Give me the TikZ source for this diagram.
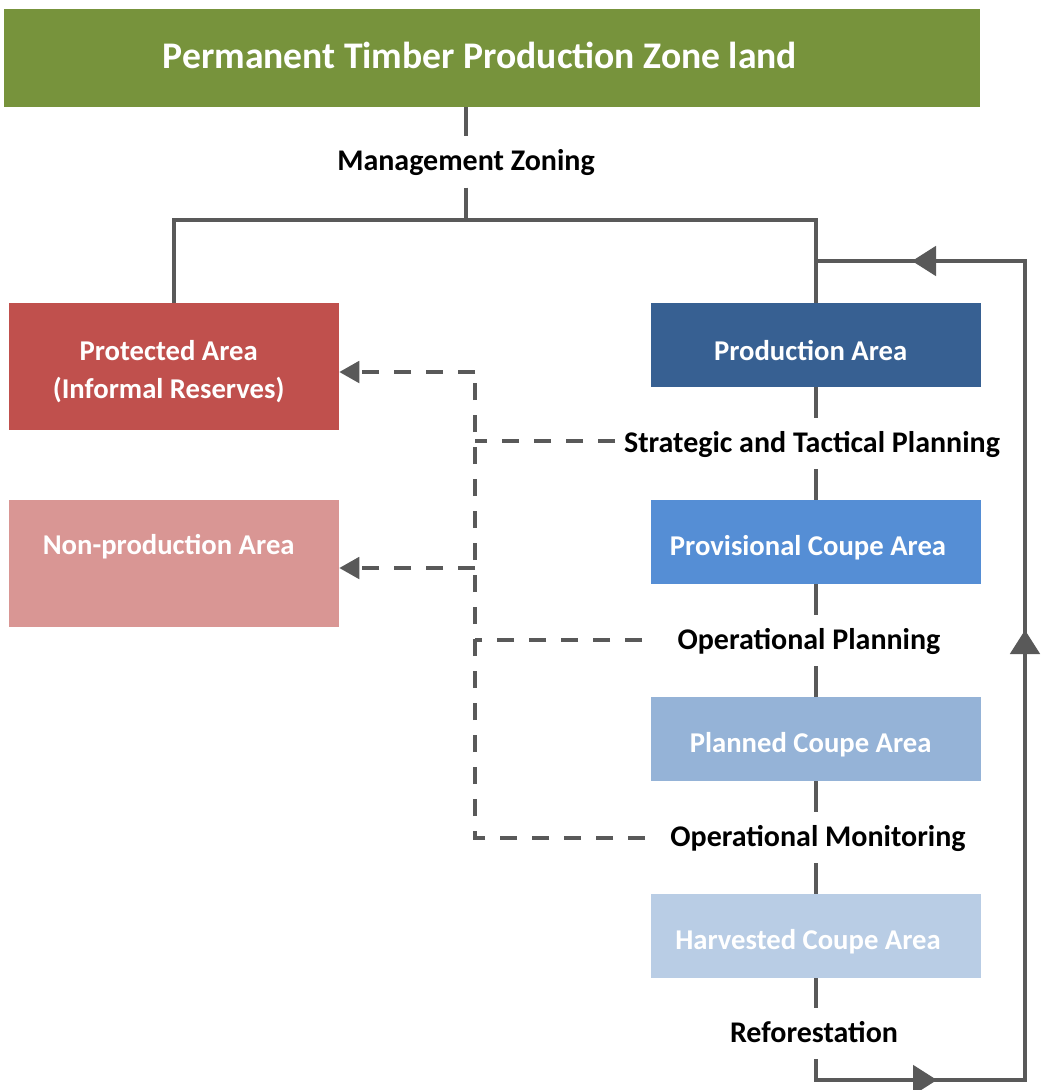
\documentclass[tikz,border=0pt]{standalone}
\usepackage{fontspec}
\setmainfont{Carlito}
\usetikzlibrary{arrows.meta}
\definecolor{cgreen}{HTML}{77933C}
\definecolor{cprot}{HTML}{C0504D}
\definecolor{cnonp}{HTML}{D99694}
\definecolor{cprod}{HTML}{376092}
\definecolor{cprov}{HTML}{558ED5}
\definecolor{cplan}{HTML}{95B3D7}
\definecolor{charv}{HTML}{B9CDE5}
\definecolor{cline}{HTML}{595959}
\tikzset{
  box/.style={rectangle, draw=none, inner sep=0pt, minimum width=247.5pt},
  btxt/.style={text=white, font=\bfseries\fontsize{21.5}{28.5}\selectfont, align=center, inner sep=0pt, xshift=-4pt, yshift=-4pt},
  lbl/.style={rectangle, draw=none, text=black, font=\bfseries\fontsize{22.5}{26}\selectfont, text height=17pt, text depth=4pt, inner ysep=8.6pt, inner xsep=2pt},
  conn/.style={draw=cline, line width=3pt},
  dconn/.style={draw=cline, line width=3pt, dash pattern=on 12.75pt off 11.25pt},
  ltip/.style={-{Triangle[length=18pt,width=22pt]}},
  dtip/.style={-{Triangle[length=15pt,width=16pt]}}
}
\begin{document}
\begin{tikzpicture}[x=0.75pt,y=-0.75pt]
\useasboundingbox (0,0) rectangle (1046,1090);
% boxes
\node[rectangle, fill=cgreen, minimum width=732pt, minimum height=73.5pt, inner sep=0pt,
  label={[text=white, font=\bfseries\fontsize{28.2}{32}\selectfont, inner sep=0pt, xshift=-9pt, yshift=2pt]center:Permanent Timber Production Zone land}] (title) at (492,58) {};
\node[box, fill=cprot, minimum height=95.25pt, label={[btxt]center:Protected Area\\(Informal Reserves)}] (prot) at (174,366.5) {};
\node[box, fill=cnonp, minimum height=95.25pt, label={[btxt, yshift=4pt]center:Non-production Area\\\mbox{}}] (nonp) at (174,563) {};
\node[box, fill=cprod, minimum height=63pt, label={[btxt]center:Production Area}] (prod) at (816,345) {};
\node[box, fill=cprov, minimum height=63pt, label={[btxt, xshift=-2pt]center:Provisional Coupe Area}] (prov) at (816,542) {};
\node[box, fill=cplan, minimum height=63pt, label={[btxt]center:Planned Coupe Area}] (plan) at (816,739) {};
\node[box, fill=charv, minimum height=63pt, label={[btxt, xshift=-2pt]center:Harvested Coupe Area}] (harv) at (816,936) {};
% labels
\node[lbl] (mz) at (466,162) {Management Zoning};
\node[lbl] (stp) at (812,443.5) {Strategic and Tactical Planning};
\node[lbl] (opp) at (809,640.5) {Operational Planning};
\node[lbl] (opm) at (818,837.5) {Operational Monitoring};
\node[lbl] (ref) at (814,1033.5) {Reforestation};
% coordinates
\coordinate (hz) at (466,220);
\coordinate (lpA) at (816,1080);
\coordinate (lpB) at (937,1080);
\coordinate (lpC) at (1025,1080);
\coordinate (lpD) at (1025,630);
\coordinate (lpE) at (1025,261);
\coordinate (lpF) at (912,261);
\coordinate (lpG) at (816,261);
\coordinate (dA) at (475,372);
\coordinate (dB) at (475,441);
\coordinate (dC) at (475,568);
\coordinate (dD) at (475,640);
\coordinate (dE) at (475,838);
\coordinate (eB) at (615,441);
\coordinate (eD) at (642,640);
\coordinate (eE) at (645,838);
% solid connectors
\draw[conn] (title.south -| mz) -- (mz.north);
\draw[conn] (mz.south) -- (hz);
\draw[conn] (prot.north) -- (prot.north |- hz) -- (prod.north |- hz) -- (prod.north);
\draw[conn] (prod.south) -- (stp.north -| prod.south);
\draw[conn] (stp.south -| prov.north) -- (prov.north);
\draw[conn] (prov.south) -- (opp.north -| prov.south);
\draw[conn] (opp.south -| plan.north) -- (plan.north);
\draw[conn] (plan.south) -- (opm.north -| plan.south);
\draw[conn] (opm.south -| harv.north) -- (harv.north);
\draw[conn] (harv.south) -- (ref.north -| harv.south);
% feedback loop
\draw[conn] (ref.south -| lpA) -- (lpA) -- (lpB);
\draw[conn, ltip] (lpA) -- (lpB);
\draw[conn] (lpB) -- (lpC) -- (lpD);
\draw[conn, ltip] (lpC) -- (lpD);
\draw[conn] (lpD) -- (lpE) -- (lpF);
\draw[conn, ltip] (lpE) -- (lpF);
\draw[conn] (lpF) -- (lpG);
% dashed connectors
\draw[dconn] (eB) -- (dB);
\draw[dconn] (eD) -- (dD);
\draw[dconn] (eE) -- (dE) -- (dA);
\draw[dconn, dtip] (dA) -- (prot.east |- dA);
\draw[dconn, dtip] (dC) -- (nonp.east |- dC);
\end{tikzpicture}
\end{document}
